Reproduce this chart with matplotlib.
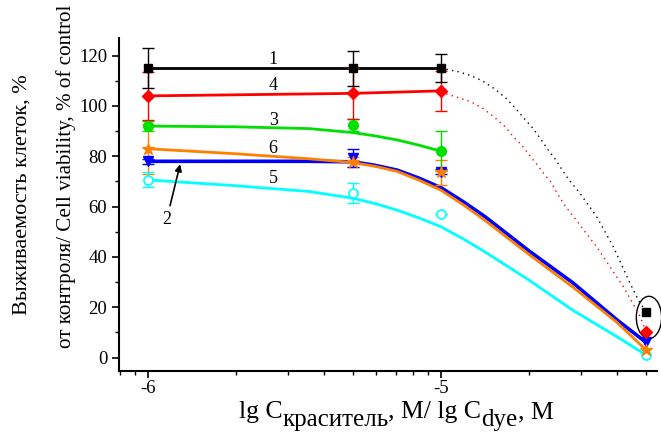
import numpy as np
import matplotlib
matplotlib.use("Agg")
import matplotlib.pyplot as plt
from matplotlib.patches import Ellipse
from matplotlib.ticker import FixedLocator, FixedFormatter, LogLocator, NullFormatter, MultipleLocator

plt.rcParams['font.family'] = ['Liberation Serif', 'DejaVu Serif']
plt.rcParams['axes.unicode_minus'] = False

# measured points (concentration, M)
conc = [1e-6, 5e-6, 1e-5, 5e-5]
viab_1 = [115, 115, 115, 18]
err_1 = [8, 7, 5.5]
viab_4 = [104, 105, 106, 10]
err_4 = [9.5, 10, 8]
viab_3 = [92, 92.5, 82]
err_3 = [2, 2.5, 8]
viab_6 = [83, 77.9, 73.6, 3]
err_6 = [10, 2, 5]
viab_2 = [78, 79.2, 73.9, 6]
err_2 = [1, 3.5, 1]
viab_5 = [70.6, 65.3, 57, 1]
err_5 = [3, 4, 0]

# fitted curves (lg C)
fit_lg = [-6.0, -5.7, -5.45, -5.3, -5.225, -5.15, -5.075, -5.0, -4.925, -4.85, -4.7, -4.55, -4.4, -4.3]
fit_2 = [78, 78, 78, 77.8, 76.4, 74.5, 71.3, 67.5, 62, 56, 42.4, 29.7, 15, 6]
fit_6 = [83, 81, 79, 77.5, 76, 74, 70.5, 66.5, 60.8, 54.5, 41, 28, 14, 3]
fit_5 = [70.6, 68.3, 66, 63.3, 61.2, 58.6, 55.5, 52, 47.2, 42, 30.8, 18.8, 8.3, 1]
fit3_lg = [-6.0, -5.7, -5.45, -5.3, -5.225, -5.15, -5.075, -5.0]
fit_3 = [92, 91.7, 91, 89.4, 88.1, 86.5, 84.4, 82]

# dotted continuations of curves 1 and 4
dot1_lg = [-5.0, -4.941, -4.899, -4.858, -4.816, -4.776, -4.744, -4.717, -4.687,
           -4.662, -4.637, -4.611, -4.588, -4.566, -4.526, -4.469, -4.412, -4.355, -4.327, -4.3]
dot_1 = [115, 113.6, 112.1, 109.9, 106.7, 102.8, 98.8, 95.1, 91.2,
         87.2, 82.9, 79.0, 74.8, 71.0, 65.3, 56, 44, 29.5, 22.9, 18]
dot4_lg = [-5.0, -4.941, -4.899, -4.858, -4.816, -4.778, -4.751, -4.725, -4.699,
           -4.671, -4.645, -4.628, -4.583, -4.469, -4.378, -4.32, -4.3]
dot_4 = [105.5, 103.3, 101.7, 99.1, 95.3, 91.4, 87.4, 84.5, 80.5,
         76.5, 72.3, 70.2, 61.3, 44, 28.2, 16.2, 10]

curve_labels = ["1", "4", "3", "6", "5"]
label_y = [118.3, 108.3, 94.4, 83.2, 71.3]

fig = plt.figure(figsize=(6.61, 4.32), dpi=100)
ax = fig.add_axes([0.180, 0.142, 0.814, 0.770])

lw = 2.0
ax.plot(conc[:3], viab_1[:3], color='black', lw=lw, zorder=3)
ax.plot(conc[:3], viab_4[:3], color='red', lw=lw, zorder=3)
ax.plot(10 ** np.array(fit3_lg), fit_3, color='#00e000', lw=lw, zorder=3)
ax.plot(10 ** np.array(fit_lg), fit_5, color='cyan', lw=lw, zorder=3)
ax.plot(10 ** np.array(fit_lg), fit_2, color='blue', lw=lw + 0.6, zorder=3)
ax.plot(10 ** np.array(fit_lg), fit_6, color='#ff8000', lw=lw, zorder=3)
ax.plot(10 ** np.array(dot1_lg), dot_1, color='black', lw=1.0, ls=(0, (1, 3)), zorder=2)
ax.plot(10 ** np.array(dot4_lg), dot_4, color='red', lw=1.0, ls=(0, (1, 3)), zorder=2)

ek = dict(fmt='none', capsize=4, elinewidth=1, capthick=1, zorder=4)
ax.errorbar(conc[:3], viab_6[:3], yerr=err_6, ecolor='#ff8000', **ek)
ax.errorbar(conc[:3], viab_2[:3], yerr=err_2, ecolor='blue', **ek)
ax.errorbar(conc[:3], viab_5[:3], yerr=err_5, ecolor='cyan', **ek)
ax.errorbar(conc[:3], viab_3, yerr=err_3, ecolor='#00e000', **ek)
ax.errorbar(conc[:3], viab_4[:3], yerr=err_4, ecolor='red', **ek)
ax.errorbar(conc[:3], viab_1[:3], yerr=err_1, ecolor='black', **ek)

ax.plot(conc, viab_5, ls='none', marker='o', ms=6.5, mfc='white', mec='cyan', mew=1.2, zorder=5)
ax.plot(conc, viab_2, ls='none', marker='v', ms=7, color='blue', zorder=5)
ax.plot(conc, viab_6, ls='none', marker='*', ms=9, color='#ff8000', zorder=5)
ax.plot(conc[:3], viab_3, ls='none', marker='o', ms=7, color='#00e000', zorder=5)
ax.plot(conc, viab_4, ls='none', marker='D', ms=6.5, color='red', zorder=5)
ax.plot(conc, viab_1, ls='none', marker='s', ms=6, color='black', zorder=5)

for lab, yv in zip(curve_labels, label_y):
    ax.text(10 ** -5.573, yv, lab, fontsize=13, ha='center', va='center')
ax.text(10 ** -5.936, 54.7, "2", fontsize=13, ha='center', va='center')
ax.annotate('', xy=(10 ** -5.888, 77.9), xytext=(10 ** -5.927, 59.3),
            arrowprops=dict(arrowstyle='-|>', color='black', lw=1.2, mutation_scale=10))

ax.add_patch(Ellipse((0.985, 0.160), 0.047, 0.127, transform=ax.transAxes,
                     fill=False, ec='black', lw=1.0, clip_on=False))

ax.set_xscale('log')
ax.set_xlim(10 ** -6.099, 10 ** -4.263)
ax.set_ylim(-5.2, 127)
ax.xaxis.set_major_locator(FixedLocator([1e-6, 1e-5]))
ax.xaxis.set_major_formatter(FixedFormatter(["-6", "-5"]))
ax.xaxis.set_minor_locator(LogLocator(base=10, subs=np.arange(2, 10)))
ax.xaxis.set_minor_formatter(NullFormatter())
ax.yaxis.set_major_locator(MultipleLocator(20))
ax.yaxis.set_minor_locator(MultipleLocator(10))
ax.set_yticks([0, 20, 40, 60, 80, 100, 120])
ax.tick_params(which='major', direction='out', length=5, width=1.2, labelsize=13.5)
ax.tick_params(which='major', axis='x', pad=2)
ax.tick_params(which='minor', direction='out', length=3, width=1.0)

for s in ['top', 'right']:
    ax.spines[s].set_visible(False)
for s in ['left', 'bottom']:
    ax.spines[s].set_linewidth(1.5)

# x label built from pieces so the subscripts can be large, as in the original
xlabel_parts = [("lg C", 18.5, 0), ("краситель", 18, -8), (", M/ lg C", 18.5, 0),
                ("dye", 18, -8), (", M", 18.5, 0)]
fig.canvas.draw()
renderer = fig.canvas.get_renderer()
W, H = fig.bbox.width, fig.bbox.height
widths = []
for txt, fs, dy in xlabel_parts:
    t = fig.text(0, 0, txt, fontsize=fs)
    widths.append(t.get_window_extent(renderer).width)
    t.remove()
x_px = 396 - sum(widths) / 2
base_px = 432 - 418
for (txt, fs, dy), w in zip(xlabel_parts, widths):
    fig.text(x_px / W, (base_px + dy) / H, txt, fontsize=fs, va='baseline', ha='left')
    x_px += w

fig.text(0.033, 0.549, "Выживаемость клеток, %", rotation=90, fontsize=16, ha='center', va='center')
fig.text(0.100, 0.593, "от контроля/ Cell viability, % of control", rotation=90, fontsize=15.2,
         ha='center', va='center')

fig.savefig("out.png", dpi=100)
